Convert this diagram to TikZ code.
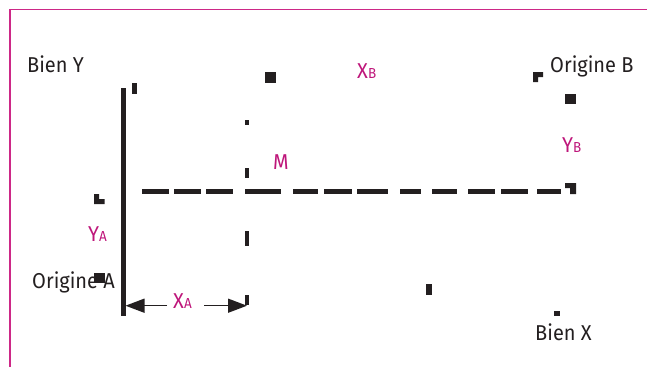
\documentclass[tikz,border=0pt]{standalone}
\usepackage{fontspec}
\setmainfont{Fira Sans}[FakeStretch=0.93]
\usetikzlibrary{arrows.meta}
\definecolor{ink}{RGB}{35,31,32}
\definecolor{boxpink}{RGB}{205,40,135}
\definecolor{accent}{RGB}{190,22,122}
\tikzset{
  lbl/.style={anchor=base west, inner sep=0pt, text=ink, font=\fontsize{21.5}{21.5}\selectfont},
  mlbl/.style={lbl, text=accent},
  blk/.style={fill=ink, draw=none},
  dim/.style={draw=ink, line width=1.5pt, -{Triangle[length=19pt,width=14pt]}},
}
\newcommand{\idx}[2]{#1\raisebox{-0.5pt}{\fontsize{14.5}{14.5}\selectfont #2}}
\begin{document}
\begin{tikzpicture}[x=1pt,y=-1pt]
\useasboundingbox (0,0) rectangle (647,367);
% frame
\fill[boxpink] (8.6,367) rectangle (10.6,8.6);
\fill[boxpink] (8.6,8.6) rectangle (647,10.4);

% labels
\node[lbl] (bieny) at (27,72) {Bien Y};
\node[lbl] (origb) at (550,72) {Origine B};
\node[lbl] (origa) at (32,288) {Origine A};
\node[lbl] (bienx) at (535,340) {Bien X};
\node[mlbl] (xb) at (357,78) {\idx{X}{B}};
\node[mlbl] (m) at (273,169) {M};
\node[mlbl] (yb) at (562,152) {\idx{Y}{B}};
\node[mlbl] (ya) at (88,241) {\idx{Y}{A}};
\node[mlbl] (xa) at (173,308) {\idx{X}{A}};

% vertical axis
\fill[blk] (121,88) rectangle (125.5,315.5);
\fill[blk] (132,83) rectangle (137,94);

% scattered marks
\fill[blk] (265,72) rectangle (276,83);
\fill[blk] (533,72) -- (543,72) -- (543,77) -- (538,77) -- (538,82) -- (533,82) -- cycle;
\fill[blk] (565,94) rectangle (576,104);
\fill[blk] (94,194) -- (99,194) -- (99,199) -- (104.5,199) -- (104.5,204) -- (94,204) -- cycle;
\fill[blk] (94,273) rectangle (104.5,283);
\fill[blk] (425.5,284) rectangle (432,295);
\fill[blk] (554,311) rectangle (560,316);

% vertical dashed guide through M
\foreach \a/\b in {120/125,168/178,231/246,295/305}
  \fill[blk] (244.5,\a) rectangle (249,\b);

% horizontal dashed guide through M
\foreach \a/\b in {142/169,174/201,206/233,245/281,293/318,324/352,357/388,400/421,432/457,468/495,501/528,537/561}
  \fill[blk] (\a,189) rectangle (\b,194);
\fill[blk] (565,183) -- (576,183) -- (576,194) -- (570,194) -- (570,188) -- (565,188) -- cycle;

% dimension arrows for X_A
\coordinate (xal) at (167,305.7);
\coordinate (xaa) at (125.5,305.7);
\coordinate (xar) at (204,305.7);
\coordinate (xab) at (247,305.7);
\draw[dim] (xal) -- (xaa);
\draw[dim] (xar) -- (xab);
\end{tikzpicture}
\end{document}
